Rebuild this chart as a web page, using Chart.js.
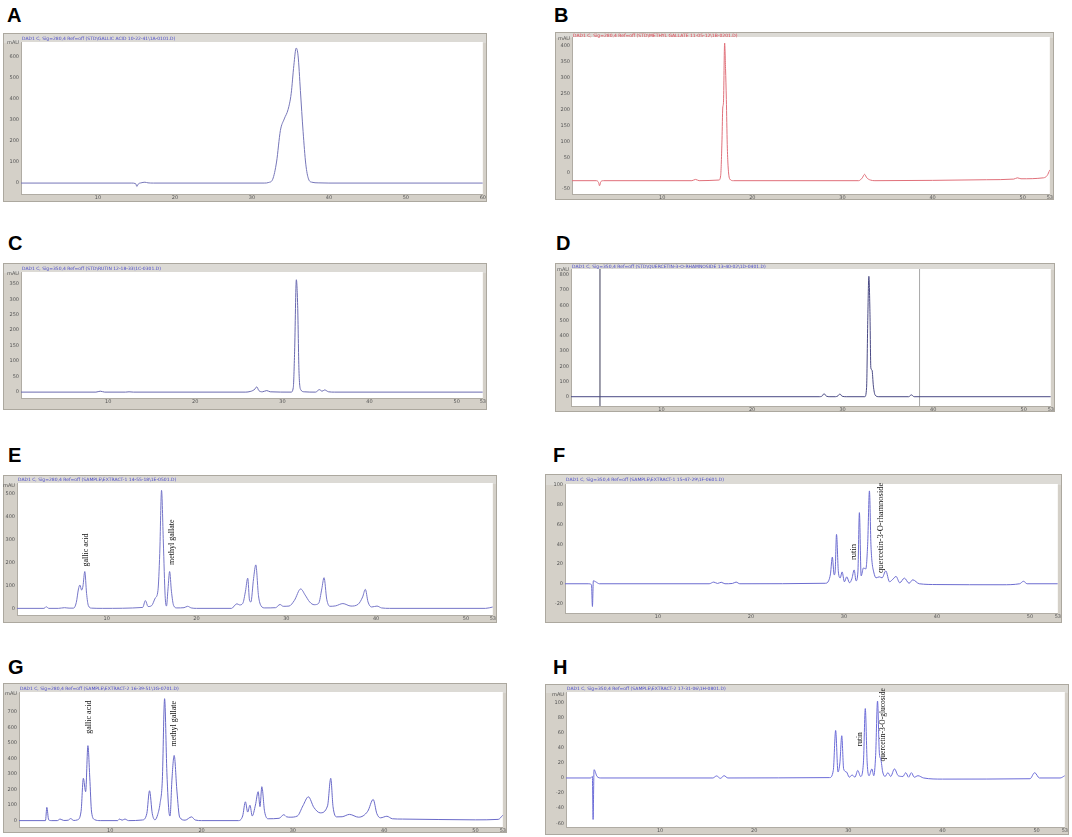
<!DOCTYPE html>
<html>
<head>
<meta charset="utf-8">
<title>HPLC chromatograms A-H</title>
<script src="https://cdn.jsdelivr.net/npm/chart.js@4.4.0/dist/chart.umd.min.js"></script>
<style>
body { margin: 0; background: #fff; width: 1072px; height: 837px; position: relative; overflow: hidden; font-family: "Liberation Sans", Arial, sans-serif; }
.tag { position: absolute; font-weight: bold; font-size: 20px; line-height: 20px; color: #000; }
.panel { position: absolute; }
</style>
</head>
<body>
<div class="tag" style="left:7px;top:5px">A</div>
<div class="tag" style="left:554px;top:5px">B</div>
<div class="tag" style="left:8px;top:233px">C</div>
<div class="tag" style="left:556px;top:233px">D</div>
<div class="tag" style="left:8px;top:445px">E</div>
<div class="tag" style="left:553px;top:445px">F</div>
<div class="tag" style="left:8px;top:657px">G</div>
<div class="tag" style="left:553px;top:657px">H</div>

<div class="panel" style="left:3px;top:33px;width:484px;height:169px"><canvas id="cA"></canvas></div>
<div class="panel" style="left:555px;top:32px;width:499px;height:168px"><canvas id="cB"></canvas></div>
<div class="panel" style="left:3px;top:263px;width:484px;height:147px"><canvas id="cC"></canvas></div>
<div class="panel" style="left:555px;top:263px;width:500px;height:149px"><canvas id="cD"></canvas></div>
<div class="panel" style="left:3px;top:475px;width:494px;height:148px"><canvas id="cE"></canvas></div>
<div class="panel" style="left:545px;top:474px;width:517px;height:149px"><canvas id="cF"></canvas></div>
<div class="panel" style="left:3px;top:683px;width:504px;height:150px"><canvas id="cG"></canvas></div>
<div class="panel" style="left:545px;top:684px;width:524px;height:151px"><canvas id="cH"></canvas></div>

<script>
// retention time (min) and detector signal (mAU)

// time axis ticks (panel A runs to 60 min, the others to 53)
const aXTicks = [10, 20, 30, 40, 50, 60];
const xTicks  = [10, 20, 30, 40, 50, 53];

// A - standard
const aTime   = [0, 14.4, 14.9, 15.05, 15.25, 15.6, 16.1, 16.5, 17.2, 31.6, 32.2, 32.7, 33.2, 33.7, 34.2, 34.7, 35.1, 35.45, 35.75, 36.0, 36.3, 36.65, 37.0, 37.35, 37.8, 38.6, 40, 60];
const aSignal = [0, 0, -3, -16, -4, 1, 4, 1, 0, 0, 3, 18, 100, 250, 305, 350, 425, 560, 642, 605, 440, 245, 90, 20, 4, 1, 0, 0];
const aYTicks  = [0, 100, 200, 300, 400, 500, 600, 667];
const aYLabels = ['0', '100', '200', '300', '400', '500', '600', 'mAU'];

// B - standard
const bTime   = [0, 2.7, 2.95, 3.05, 3.2, 3.5, 13.3, 13.7, 14.1, 16.3, 16.49, 16.64, 16.72, 16.8, 16.93, 17.03, 17.12, 17.22, 17.31, 17.5, 17.9, 31.8, 32.2, 32.45, 32.7, 33.1, 33.6, 40, 46, 49.0, 49.4, 49.8, 52.3, 52.7, 53];
const bSignal = [-24, -24, -30, -40, -27, -24, -24, -20, -24, -22, -8, 107, 205, 222, 410, 330, 232, 90, 23, -19, -24, -24, -15, -4, -15, -22, -24, -23, -21, -19, -15, -18, -15, -8, 10];
const bYTicks  = [-50, 0, 50, 100, 150, 200, 250, 300, 350, 400, 423];
const bYLabels = ['-50', '0', '50', '100', '150', '200', '250', '300', '350', '400', 'mAU'];

// C - standard
const cTime   = [0, 8.6, 9.1, 9.6, 12.0, 12.4, 12.9, 25.8, 26.3, 26.6, 26.85, 27.05, 27.3, 27.7, 28.2, 28.6, 31.0, 31.25, 31.4, 31.6, 31.75, 31.9, 32.1, 32.5, 33.8, 34.25, 34.55, 34.85, 35.3, 36, 53];
const cSignal = [0, 0, 3, 0, 0, 1, 0, 0, 2, 5, 10, 17, 5, 1, 5, 1, 0, 15, 130, 363, 280, 70, 8, 1, 0, 8, 3, 7, 1, 0, 0];
const cYTicks  = [0, 50, 100, 150, 200, 250, 300, 350, 382];
const cYLabels = ['0', '50', '100', '150', '200', '250', '300', '350', 'mAU'];

// D - standard, plus two vertical event markers
const dTime   = [0, 27.4, 27.75, 27.95, 28.2, 28.6, 29.2, 29.5, 29.7, 29.95, 30.4, 32.45, 32.65, 32.78, 32.9, 33.02, 33.12, 33.25, 33.4, 33.6, 34.0, 37.3, 37.6, 37.9, 53];
const dSignal = [0, 0, 5, 20, 4, 0, 0, 6, 18, 3, 0, 0, 60, 500, 790, 560, 190, 175, 70, 10, 0, 0, 12, 0, 0];
const dMarks  = [3.2, 38.5];
const dYTicks  = [0, 100, 200, 300, 400, 500, 600, 700, 800, 834];
const dYLabels = ['0', '100', '200', '300', '400', '500', '600', '700', '800', 'mAU'];

// E - extract, 280 nm
const eTime   = [0, 3.0, 3.25, 3.55, 4.6, 5.3, 5.8, 6.3, 6.6, 6.85, 7.0, 7.2, 7.35, 7.55, 7.75, 7.95, 8.3, 9.5, 14.0, 14.3, 14.6, 15.0, 15.4, 15.7, 15.9, 16.1, 16.3, 16.5, 16.65, 16.82, 17.0, 17.2, 17.45, 17.8, 18.6, 19.0, 19.4, 20, 23.9, 24.3, 24.5, 24.8, 25.15, 25.45, 25.7, 25.9, 26.05, 26.35, 26.6, 26.9, 27.2, 27.6, 28.8, 29.3, 29.65, 30.3, 30.9, 31.6, 32.1, 32.6, 33.1, 33.6, 33.95, 34.2, 34.5, 34.85, 35.5, 36.3, 37.2, 38.0, 38.5, 38.8, 39.1, 39.5, 40.1, 40.6, 41.5, 52.2, 53];
const eSignal = [0, 0, 7, 0, 0, 3, 1, 1, 25, 85, 102, 80, 98, 161, 65, 12, 1, 0, 4, 34, 8, 12, 45, 78, 240, 516, 290, 55, 10, 85, 161, 75, 12, 2, 3, 9, 2, 0, 0, 15, 20, 15, 22, 75, 132, 35, 28, 130, 190, 55, 10, 2, 3, 17, 9, 10, 35, 85, 58, 28, 16, 22, 85, 134, 40, 9, 11, 21, 10, 18, 50, 83, 28, 6, 10, 2, 0, 0, 6];
const eYTicks  = [0, 100, 200, 300, 400, 500, 538];
const eYLabels = ['0', '100', '200', '300', '400', '500', 'mAU'];
const eNames  = ['gallic acid', 'methyl gallate'];
const eNameAt = [7.63, 17.26];
const eNameY  = [183, 190];

// F - extract, 350 nm
const fTime   = [0, 2.5, 2.85, 2.95, 3.05, 3.3, 3.7, 15.5, 16.0, 16.4, 16.8, 17.2, 18.0, 18.4, 18.8, 28.0, 28.35, 28.55, 28.75, 28.95, 29.05, 29.2, 29.4, 29.6, 29.8, 30.05, 30.3, 30.6, 30.85, 31.1, 31.3, 31.5, 31.66, 31.85, 32.1, 32.35, 32.55, 32.74, 32.9, 33.0, 33.2, 33.45, 33.8, 34.1, 34.5, 34.9, 35.2, 35.6, 36.0, 36.5, 37.0, 37.4, 38.1, 40, 47, 48.9, 49.3, 49.7, 53];
const fSignal = [0, 0, -1, -23, 3, 2, 0, 0, 1.7, 0.3, 1.5, 0, 0.3, 1.7, 0, 0.5, 3, 10, 27, 9, 12, 50, 12, 6, 12, 2, 7, 1, 5, 14, 3, 12, 72, 8, 16, 15, 40, 94, 40, 24, 12, 6, 7, 6, 13, 2, 4, 7.4, 1, 5.7, 0.5, 4, 0, -0.8, -1, 0, 2.5, 0, 0];
const fYTicks  = [-20, 0, 20, 40, 60, 80, 100];
const fYLabels = ['-20', '0', '20', '40', '60', '80', '100'];
const fNames  = ['rutin', 'quercetin-3-O-rhamnoside'];
const fNameAt = [31.1, 34.0];
const fNameY  = [24, 11];

// G - extract, 280 nm
const gTime   = [0, 2.9, 3.05, 3.25, 3.6, 4.2, 4.5, 4.9, 5.4, 5.65, 6.0, 6.4, 6.8, 7.05, 7.3, 7.55, 7.75, 7.95, 8.3, 8.9, 10.8, 11.0, 11.3, 11.6, 12.0, 13.5, 14.0, 14.3, 14.6, 14.9, 15.2, 15.45, 15.7, 15.95, 16.2, 16.45, 16.55, 16.75, 17.0, 17.3, 17.6, 18.2, 18.9, 19.3, 20, 24.0, 24.5, 24.8, 25.05, 25.3, 25.55, 25.9, 26.2, 26.4, 26.6, 26.9, 27.3, 28.5, 29.0, 29.3, 29.7, 30.5, 31.1, 31.7, 32.3, 33.0, 33.8, 34.15, 34.4, 34.8, 35.4, 36.2, 37.2, 38.2, 38.8, 39.2, 39.6, 40.3, 40.9, 42, 50, 52.5, 53];
const gSignal = [0, 0, 85, 5, 0, 0, 10, 1, 3, 13, 1, 5, 60, 272, 186, 482, 280, 55, 6, 0, 0, 10, 3, 10, 0, 4, 45, 192, 45, 5, 40, 110, 260, 784, 310, 45, 30, 260, 419, 190, 22, 3, 24, 4, 0, 0, 30, 121, 55, 99, 30, 100, 186, 90, 218, 60, 12, 15, 38, 25, 22, 30, 95, 153, 85, 50, 95, 272, 90, 24, 25, 40, 22, 60, 136, 45, 18, 28, 12, 10, 5, 8, 35];
const gYTicks  = [0, 100, 200, 300, 400, 500, 600, 700, 818];
const gYLabels = ['0', '100', '200', '300', '400', '500', '600', '700', 'mAU'];
const gNames  = ['gallic acid', 'methyl gallate'];
const gNameAt = [7.7, 16.97];
const gNameY  = [559, 477];

// H - extract, 350 nm
const hTime   = [0, 2.6, 2.8, 2.88, 2.98, 3.3, 3.7, 15.6, 16.0, 16.4, 16.8, 17.2, 28.0, 28.4, 28.65, 28.9, 29.1, 29.3, 29.5, 29.8, 30.1, 30.4, 30.7, 31.0, 31.3, 31.6, 31.8, 32.0, 32.2, 32.5, 32.7, 32.9, 33.1, 33.3, 33.45, 33.65, 33.9, 34.2, 34.5, 34.9, 35.3, 35.8, 36.1, 36.4, 36.7, 37.0, 37.4, 38.0, 40, 49.3, 49.8, 50.3, 52.5, 53];
const hSignal = [0, 0, 2, -55, 11, 2, 0, 0, 2.7, -0.5, 3, 0, 0.5, 10, 63, 8, 20, 56, 12, 8, 1, 4, 1, 10, 2, 20, 92, 20, 3, 12, 3, 30, 102, 32, 25, 8, 2, 7, 2, 12, 3, 2, 7, 1, 7, 1, 3, 0, -1.5, -1, 7, 0, 0, 3];
const hYTicks  = [-60, -40, -20, 0, 20, 40, 60, 80, 100, 111];
const hYLabels = ['-60', '-40', '-20', '0', '20', '40', '60', '80', '100', 'mAU'];
const hNames  = ['rutin', 'quercetin-3-O-glucoside'];
const hNameAt = [31.2, 33.7];
const hNameY  = [42, 22];

Chart.defaults.font.family = '"DejaVu Sans", sans-serif';

// grey instrument-window frame, title strip and white plot area
function framePlugin(title, titleColor, strip) {
    return {
        id: 'frame',
        beforeDraw(chart) {
            const {ctx, chartArea: a, width, height} = chart;
            ctx.save();
            ctx.fillStyle = '#d4d0c8';
            ctx.fillRect(0, 0, width, height);
            ctx.fillStyle = '#dcdad5';
            ctx.fillRect(1, 1, width - 2, strip);
            ctx.fillStyle = '#fff';
            ctx.fillRect(a.left, a.top, a.right - a.left, a.bottom - a.top);
            ctx.strokeStyle = '#aca89f';
            ctx.lineWidth = 1;
            ctx.strokeRect(0.5, 0.5, width - 1, height - 1);
            ctx.fillStyle = titleColor;
            ctx.font = '4.5px "DejaVu Sans"';
            ctx.textBaseline = 'middle';
            ctx.fillText(title, a.left + 1, strip / 2 + 1);
            ctx.restore();
        }
    };
}

// vertical compound names above peaks
function namesPlugin(names, times, values, font) {
    return {
        id: 'peakNames',
        afterDatasetsDraw(chart) {
            const {ctx, scales: {x, y}} = chart;
            ctx.save();
            ctx.fillStyle = '#111';
            ctx.font = font;
            ctx.textBaseline = 'middle';
            names.forEach((n, i) => {
                ctx.save();
                ctx.translate(x.getPixelForValue(times[i]), y.getPixelForValue(values[i]));
                ctx.rotate(-Math.PI / 2);
                ctx.fillText(n, 0, 0);
                ctx.restore();
            });
            ctx.restore();
        }
    };
}

function drawPanel(id, p) {
    const datasets = [{
        data: p.time.map((t, i) => ({x: t, y: p.signal[i]})),
        borderColor: p.color,
        borderWidth: 1,
        pointRadius: 0,
        cubicInterpolationMode: 'monotone'
    }];
    (p.marks || []).forEach((t, i) => {
        datasets.push({
            data: [{x: t, y: p.yMin}, {x: t, y: p.yMax}],
            borderColor: p.markColors[i],
            borderWidth: 1,
            pointRadius: 0
        });
    });

    const plugins = [framePlugin(p.title, p.titleColor, p.strip)];
    if (p.names) plugins.push(namesPlugin(p.names, p.nameAt, p.nameY, p.nameFont));

    new Chart(document.getElementById(id), {
        type: 'line',
        data: {datasets: datasets},
        plugins: plugins,
        options: {
            animation: false,
            responsive: true,
            maintainAspectRatio: false,
            layout: {padding: {top: p.strip, right: 3, left: 0, bottom: 0}},
            plugins: {legend: {display: false}, tooltip: {enabled: false}},
            scales: {
                x: {
                    type: 'linear',
                    min: 0,
                    max: p.xMax,
                    grid: {display: false, drawTicks: false},
                    border: {color: '#b0aca4'},
                    ticks: {maxRotation: 0, autoSkip: false, padding: 1, color: '#555', font: {size: 5}},
                    afterBuildTicks: s => { s.ticks = p.xTicks.map(v => ({value: v})); },
                    afterFit: s => { s.height = p.bottom; }
                },
                y: {
                    min: p.yMin,
                    max: p.yMax,
                    grid: {display: false, drawTicks: false},
                    border: {color: '#b0aca4'},
                    ticks: {
                        autoSkip: false, padding: 2, color: '#555', font: {size: 5},
                        callback: (v, i) => p.yLabels[i]
                    },
                    afterBuildTicks: s => { s.ticks = p.yTicks.map(v => ({value: v})); },
                    afterFit: s => { s.width = p.axisW; }
                }
            }
        }
    });
}

drawPanel('cA', {time: aTime, signal: aSignal, color: '#7676b8', xMax: 60, xTicks: aXTicks,
    yMin: -52, yMax: 671, yTicks: aYTicks, yLabels: aYLabels,
    strip: 9, axisW: 18, bottom: 8, titleColor: '#4a4ac8',
    title: 'DAD1 C, Sig=280,4 Ref=off (STD\\GALLIC ACID 10-22-41\\1A-0101.D)'});
drawPanel('cB', {time: bTime, signal: bSignal, color: '#e0707a', xMax: 53, xTicks: xTicks,
    yMin: -66, yMax: 429, yTicks: bYTicks, yLabels: bYLabels,
    strip: 5, axisW: 17, bottom: 6, titleColor: '#e04050',
    title: 'DAD1 C, Sig=280,4 Ref=off (STD\\METHYL GALLATE 11-05-12\\1B-0201.D)'});
drawPanel('cC', {time: cTime, signal: cSignal, color: '#6a6ab0', xMax: 53, xTicks: xTicks,
    yMin: -19, yMax: 388, yTicks: cYTicks, yLabels: cYLabels,
    strip: 9, axisW: 18, bottom: 12, titleColor: '#4a4ac8',
    title: 'DAD1 C, Sig=350,4 Ref=off (STD\\RUTIN 12-18-33\\1C-0301.D)'});
drawPanel('cD', {time: dTime, signal: dSignal, color: '#4a4a84', xMax: 53, xTicks: xTicks,
    yMin: -61, yMax: 838, yTicks: dYTicks, yLabels: dYLabels,
    marks: dMarks, markColors: ['#3c3c58', '#a8a8a8'],
    strip: 6, axisW: 16, bottom: 6, titleColor: '#4a4ac8',
    title: 'DAD1 C, Sig=350,4 Ref=off (STD\\QUERCETIN-3-O-RHAMNOSIDE 13-40-02\\1D-0401.D)'});
drawPanel('cE', {time: eTime, signal: eSignal, color: '#7676c8', xMax: 53, xTicks: xTicks,
    yMin: -29, yMax: 548, yTicks: eYTicks, yLabels: eYLabels,
    names: eNames, nameAt: eNameAt, nameY: eNameY, nameFont: '8px "Liberation Serif"',
    strip: 8, axisW: 14, bottom: 8, titleColor: '#4a4ac8',
    title: 'DAD1 C, Sig=280,4 Ref=off (SAMPLE\\EXTRACT-1 14-55-18\\1E-0501.D)'});
drawPanel('cF', {time: fTime, signal: fSignal, color: '#6c6cd0', xMax: 53, xTicks: xTicks,
    yMin: -29.6, yMax: 101, yTicks: fYTicks, yLabels: fYLabels,
    names: fNames, nameAt: fNameAt, nameY: fNameY, nameFont: '8.5px "Liberation Serif"',
    strip: 10, axisW: 20, bottom: 10, titleColor: '#4a4ac8',
    title: 'DAD1 C, Sig=350,4 Ref=off (SAMPLE\\EXTRACT-1 15-47-29\\1F-0601.D)'});
drawPanel('cG', {time: gTime, signal: gSignal, color: '#6a6ac8', xMax: 53, xTicks: xTicks,
    yMin: -41, yMax: 827, yTicks: gYTicks, yLabels: gYLabels,
    names: gNames, nameAt: gNameAt, nameY: gNameY, nameFont: '8px "Liberation Serif"',
    strip: 9, axisW: 16, bottom: 6, titleColor: '#4a4ac8',
    title: 'DAD1 C, Sig=280,4 Ref=off (SAMPLE\\EXTRACT-2 16-39-51\\1G-0701.D)'});
drawPanel('cH', {time: hTime, signal: hSignal, color: '#6c6cd8', xMax: 53, xTicks: xTicks,
    yMin: -65, yMax: 114, yTicks: hYTicks, yLabels: hYLabels,
    names: hNames, nameAt: hNameAt, nameY: hNameY, nameFont: '7.5px "Liberation Serif"',
    strip: 8, axisW: 21, bottom: 8, titleColor: '#4a4ac8',
    title: 'DAD1 C, Sig=350,4 Ref=off (SAMPLE\\EXTRACT-2 17-31-06\\1H-0801.D)'});
</script>
</body>
</html>
